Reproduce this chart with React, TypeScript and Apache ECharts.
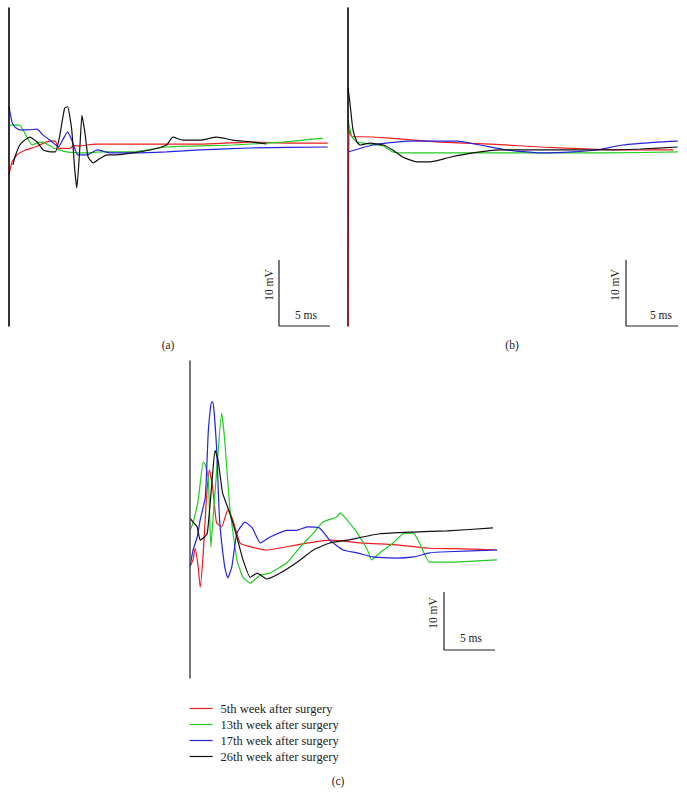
import React, { useEffect, useRef } from "react";
import * as echarts from "echarts";

// ---- Data (time in ms, potential in mV) ----
const SERIES_NAMES = [
  "5th week after surgery",
  "13th week after surgery",
  "17th week after surgery",
  "26th week after surgery",
];
const COLORS = ["#ee1c1c", "#22cc22", "#2424dd", "#111111"];

// Panel (a)
const A_RED = [[0.05,-4.5],[0.34,-2.6],[0.83,-1.5],[1.6,-0.8],[2.6,-0.3],[3.6,0.4],[4.1,0.6],[4.6,0.6],[4.9,-0.5],[6.0,-0.5],[6.4,-0.1],[7.0,-0.15],[8.5,0.15],[13.9,0.15],[18.8,0.15],[23.7,0.45],[27.6,0.3],[31.3,0.3]];
const A_GREEN = [[0.15,3.0],[1.1,3.0],[1.6,1.8],[2.3,0],[2.8,0.3],[3.4,0.45],[4.4,-0.45],[5.7,-1.05],[7.7,-1.2],[9.0,-1.05],[12.2,-1.05],[15.5,-0.3],[22.0,0],[26.9,0.45],[30.8,1.05]];
const A_BLUE = [[0.05,5.8],[0.34,3.5],[0.64,2.7],[1.1,2.3],[1.8,2.3],[2.8,2.4],[3.4,1.5],[4.3,0.45],[4.9,-0.3],[5.3,0.75],[5.8,2.0],[6.2,0.75],[6.8,-1.5],[7.7,-1.5],[8.7,-0.75],[10.0,-1.2],[12.2,-1.2],[15.5,-1.05],[18.8,-0.75],[23.7,-0.45],[31.3,-0.3]];
const A_BLACK = [[0.44,-3.0],[0.64,-1.8],[1.1,0],[1.6,0.75],[2.1,1.2],[2.8,0.45],[3.4,-0.75],[4.1,-1.05],[4.6,-1.05],[5.0,1.2],[5.5,5.6],[5.8,5.8],[6.2,2.3],[6.5,-3.8],[6.7,-6.5],[7.0,-0.3],[7.2,4.5],[7.5,1.8],[7.8,-1.8],[8.3,-2.7],[9.0,-2.0],[9.7,-1.5],[10.6,-1.5],[12.2,-1.2],[13.9,-0.75],[15.5,0],[16.1,1.2],[17.1,0.75],[18.8,0.75],[20.4,1.2],[22.0,0.75],[24.0,0.45],[25.3,0.15]];

// Panel (b)
const B_RED = [[0,-27],[0.1,2.7],[0.38,1.7],[1.15,1.7],[4.0,1.5],[8.8,0.9],[13.7,0.6],[18.5,0.15],[23.3,-0.15],[26.4,-0.3],[31.3,-0.3]];
const B_GREEN = [[0,4.2],[0.38,1.7],[0.87,0.9],[2.1,0.6],[3.4,0.3],[4.3,-0.6],[5.7,-0.75],[12.0,-0.75],[18.5,-0.75],[24.9,-0.75],[31.7,-0.6]];
const B_BLUE = [[0,-0.6],[2.4,0.45],[5.7,1.05],[10.5,1.05],[12.7,0.45],[15.3,-0.3],[18.5,-0.75],[21.6,-0.6],[23.9,-0.3],[26.4,0.45],[29.7,0.9],[31.7,1.05]];
const B_BLACK = [[0,9.1],[0.19,6.8],[0.48,2.7],[0.87,0.9],[1.15,0.45],[2.1,0.75],[3.4,0.45],[4.3,-0.3],[5.3,-1.4],[6.6,-2.1],[7.9,-2.1],[9.8,-1.4],[12.0,-0.75],[14.6,-0.3],[16.8,-0.3],[21.6,-0.3],[24.9,-0.3],[28.1,-0.15],[31.7,0.15]];

// Panel (c)
const C_RED = [[0,-2.9],[0.3,-1.7],[0.5,0.3],[0.8,-2.9],[1.0,-6.4],[1.3,-0.5],[1.6,8.6],[1.9,13.8],[2.25,10.3],[2.6,4.7],[3.1,4.0],[3.7,6.9],[4.2,5.2],[4.9,1.2],[5.6,0.7],[7.5,0],[10.5,0.9],[13.7,1.7],[17.0,1.2],[20.3,0.9],[23.5,0.3],[26.8,0.2],[30.1,0]];
const C_GREEN = [[0,3.4],[0.3,4.7],[0.8,8.6],[1.3,15.2],[1.5,14.7],[1.8,12.1],[2.05,0.5],[2.25,5.2],[2.6,13.3],[3.1,23.6],[3.4,19.0],[3.9,7.4],[4.6,-1.7],[5.2,-4.7],[5.9,-5.7],[6.9,-4.3],[7.8,-4.0],[9.5,-2.2],[10.8,0.5],[12.1,2.9],[13.0,4.8],[14.4,5.7],[14.7,6.4],[15.4,5.2],[16.4,2.9],[17.4,0],[17.8,-1.7],[18.6,-0.5],[19.9,1.2],[20.9,2.8],[21.9,2.9],[22.5,1.2],[23.5,-2.1],[25.2,-2.1],[30.1,-1.7]];
const C_BLUE = [[0,-2.9],[0.3,0],[0.7,2.2],[1.0,5.2],[1.5,9.1],[1.8,20.7],[2.1,25.5],[2.25,25.5],[2.6,17.8],[2.9,5.2],[3.4,-2.9],[3.7,-4.8],[4.1,-2.9],[4.6,2.9],[5.4,4.8],[6.1,3.8],[6.9,1.2],[7.8,2.2],[9.5,3.4],[10.5,3.4],[11.5,4.0],[12.7,3.8],[13.7,1.7],[15.0,0],[16.4,-0.5],[17.9,-1.2],[20.3,-1.4],[21.9,-1.2],[23.5,-0.5],[25.2,-0.3],[30.1,0]];
const C_BLACK = [[0,5.5],[0.3,4.8],[0.7,4.0],[1.0,1.7],[1.4,2.2],[1.7,2.9],[2.15,11.6],[2.45,17.2],[2.75,15.5],[3.2,9.8],[3.9,6.4],[4.6,2.2],[5.2,-1.7],[5.9,-4.7],[6.6,-4.0],[7.5,-5.0],[8.8,-4.0],[10.5,-2.1],[12.1,0],[13.7,1.2],[15.4,1.7],[18.6,2.8],[21.9,3.1],[25.2,3.3],[29.7,3.8]];

// Scale bars: 10 mV (vertical) and 5 ms (horizontal)
const SCALE_MV = 10;
const SCALE_MS = 5;
const A_SCALE_ORIGIN = [26.52, -27.42];
const B_SCALE_ORIGIN = [26.73, -26.97];
const C_SCALE_ORIGIN = [24.9, -17.24];

const PANEL_LABELS = ["(a)", "(b)", "(c)"];

const SERIF = "'Liberation Serif', 'Times New Roman', serif";

function scaleBar(o: number[]) {
  return [
    [o[0], o[1] + SCALE_MV],
    [o[0], o[1]],
    [o[0] + SCALE_MS, o[1]],
  ];
}

export default function App() {
  const ref = useRef<HTMLDivElement>(null);

  useEffect(() => {
    if (!ref.current) return;
    const chart = echarts.init(ref.current, null, { renderer: "svg" });

    const grids = [
      { left: 8.5, top: 8, width: 322, height: 318 },
      { left: 348, top: 8, width: 332, height: 318 },
      { left: 190, top: 361, width: 305, height: 317 },
    ];
    const xRanges = [
      [0, 31.57],
      [0, 31.92],
      [0, 29.9],
    ];
    const yRanges = [
      [-27.42, 20.76],
      [-26.97, 21.21],
      [-22.07, 32.59],
    ];
    const axisColors: any[] = [
      "#000",
      new echarts.graphic.LinearGradient(
        0, 128, 0, 134,
        [
          { offset: 0, color: "#000" },
          { offset: 1, color: "#6e1414" },
        ],
        true
      ),
      "#555",
    ];
    const panelData = [
      [A_RED, A_GREEN, A_BLUE, A_BLACK],
      [B_RED, B_GREEN, B_BLUE, B_BLACK],
      [C_RED, C_GREEN, C_BLUE, C_BLACK],
    ];
    const scaleOrigins = [A_SCALE_ORIGIN, B_SCALE_ORIGIN, C_SCALE_ORIGIN];

    const series: any[] = [];
    panelData.forEach((traces, p) => {
      traces.forEach((d, i) => {
        series.push({
          type: "line",
          name: SERIES_NAMES[i],
          xAxisIndex: p,
          yAxisIndex: p,
          data: d,
          symbol: "none",
          showSymbol: false,
          smooth: 0.15,
          lineStyle: { color: COLORS[i], width: 1.2 },
          itemStyle: { color: COLORS[i] },
          clip: false,
          z: 3 + i,
        });
      });
      series.push({
        type: "line",
        name: "scale",
        xAxisIndex: p,
        yAxisIndex: p,
        data: scaleBar(scaleOrigins[p]),
        symbol: "none",
        showSymbol: false,
        lineStyle: { color: "#222", width: 1.2 },
        clip: false,
        silent: true,
      });
    });

    const textStyle = (s: string, x: number, y: number, rot = 0) => ({
      type: "text",
      x,
      y,
      rotation: rot,
      style: {
        text: s,
        fill: "#222",
        font: `11.5px ${SERIF}`,
        textAlign: "center",
        textVerticalAlign: "middle",
      },
    });

    chart.setOption({
      animation: false,
      backgroundColor: "#fff",
      grid: grids,
      xAxis: grids.map((_, p) => ({
        type: "value",
        gridIndex: p,
        min: xRanges[p][0],
        max: xRanges[p][1],
        axisLine: { show: false },
        axisTick: { show: false },
        axisLabel: { show: false },
        splitLine: { show: false },
      })),
      yAxis: grids.map((_, p) => ({
        type: "value",
        gridIndex: p,
        min: yRanges[p][0],
        max: yRanges[p][1],
        z: 10,
        axisLine: { show: true, onZero: false, lineStyle: { color: axisColors[p], width: 1.6 } },
        axisTick: { show: false },
        axisLabel: { show: false },
        splitLine: { show: false },
      })),
      legend: {
        data: SERIES_NAMES,
        orient: "vertical",
        left: 189,
        top: 702,
        itemWidth: 23,
        itemHeight: 12,
        itemGap: 3,
        padding: 0,
        selectedMode: false,
        itemStyle: { opacity: 0 },
        lineStyle: { width: 1.2 },
        textStyle: { fontFamily: SERIF, fontSize: 12.5, color: "#222", padding: [0, 0, 0, 3] },
      },
      graphic: [
        textStyle("10 mV", 269, 285, Math.PI / 2),
        textStyle("5 ms", 306, 315),
        textStyle("10 mV", 615, 285, Math.PI / 2),
        textStyle("5 ms", 661, 315),
        textStyle("10 mV", 433, 613, Math.PI / 2),
        textStyle("5 ms", 471, 638),
        textStyle(PANEL_LABELS[0], 168, 345),
        textStyle(PANEL_LABELS[1], 512, 345),
        textStyle(PANEL_LABELS[2], 338, 781),
      ],
      series,
    });

    return () => chart.dispose();
  }, []);

  return (
    <div
      ref={ref}
      style={{ position: "absolute", left: 0, top: 0, width: 687, height: 797 }}
    />
  );
}
